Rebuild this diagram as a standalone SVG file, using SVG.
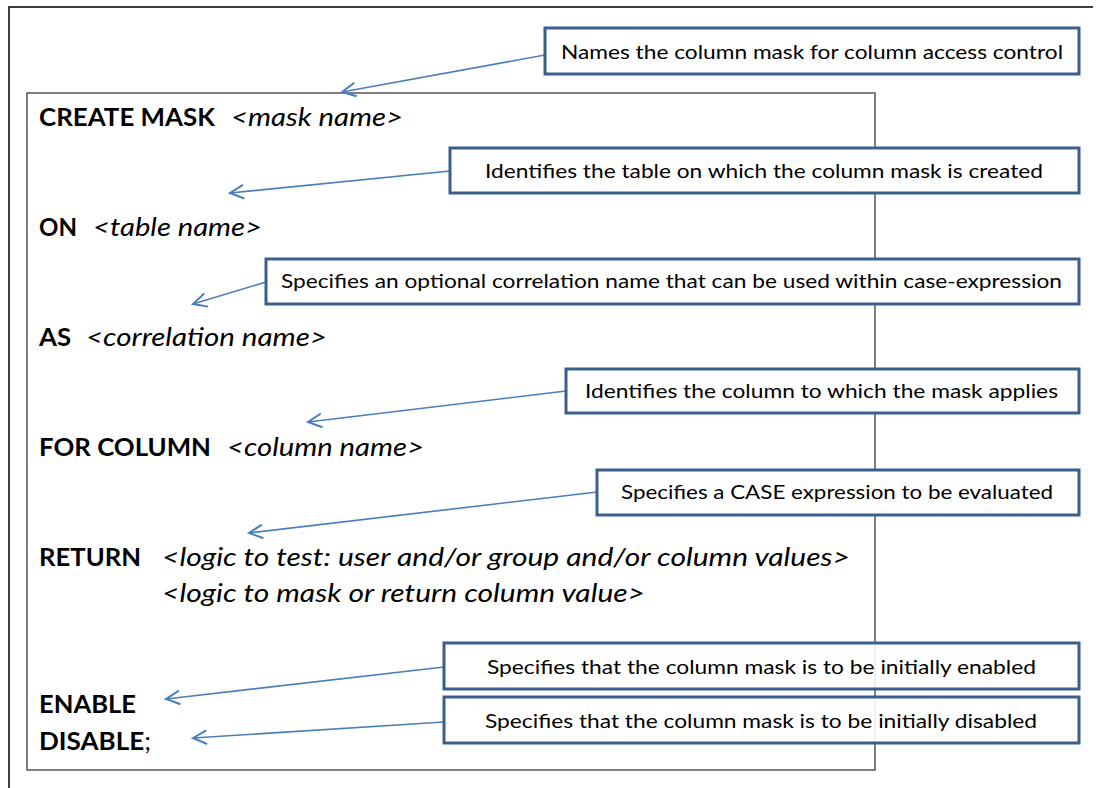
<svg xmlns="http://www.w3.org/2000/svg" width="1097" height="788" viewBox="0 0 1097 788">
<style>
.frame{fill:none;stroke:#000;stroke-width:1.5}
.inner{fill:#fff;stroke:#555;stroke-width:1.5}
.box{fill:#fff;stroke:#3B5E8C;stroke-width:3}
.conn{fill:none;stroke:#4A7EBB;stroke-width:1.6}
.kw{font-family:"Lato","Liberation Sans",sans-serif;font-weight:bold;font-size:25px;fill:#000}
.it{font-family:"Lato","Liberation Sans",sans-serif;font-style:italic;font-size:25px;fill:#000}
.ct{font-family:"Lato","Liberation Sans",sans-serif;font-size:20px;fill:#000}
</style>
<defs>
<marker id="arr" markerUnits="userSpaceOnUse" markerWidth="20" markerHeight="20" viewBox="-12 -8 14 16" refX="0" refY="0" orient="auto" overflow="visible">
<path d="M-11,-5.5 L0,0 L-11,5.5" fill="none" stroke="#4A7EBB" stroke-width="1.6"/>
</marker>
</defs>
<rect width="1097" height="788" fill="#fff"/>
<path class="frame" d="M9,788 L9,7 L1093,7"/>
<g id="syntax">
<rect class="inner" x="27" y="93" width="848" height="677"/>
<text class="kw" x="39" y="126" textLength="176" lengthAdjust="spacingAndGlyphs">CREATE MASK</text>
<text class="it" x="231" y="126" textLength="172" lengthAdjust="spacingAndGlyphs">&lt;mask name&gt;</text>
<text class="kw" x="39" y="236" textLength="38" lengthAdjust="spacingAndGlyphs">ON</text>
<text class="it" x="93" y="236" textLength="169" lengthAdjust="spacingAndGlyphs">&lt;table name&gt;</text>
<text class="kw" x="39" y="346" textLength="32" lengthAdjust="spacingAndGlyphs">AS</text>
<text class="it" x="86" y="346" textLength="241" lengthAdjust="spacingAndGlyphs">&lt;correlation name&gt;</text>
<text class="kw" x="39" y="456" textLength="172" lengthAdjust="spacingAndGlyphs">FOR COLUMN</text>
<text class="it" x="227" y="456" textLength="197" lengthAdjust="spacingAndGlyphs">&lt;column name&gt;</text>
<text class="kw" x="39" y="566" textLength="102" lengthAdjust="spacingAndGlyphs">RETURN</text>
<text class="it" x="162" y="566" textLength="688" lengthAdjust="spacingAndGlyphs">&lt;logic to test: user and/or group and/or column values&gt;</text>
<text class="it" x="162" y="602" textLength="483" lengthAdjust="spacingAndGlyphs">&lt;logic to mask or return column value&gt;</text>
<text class="kw" x="39" y="713" textLength="97" lengthAdjust="spacingAndGlyphs">ENABLE</text>
<text class="kw" x="39" y="750" textLength="112" lengthAdjust="spacingAndGlyphs">DISABLE<tspan font-weight="normal">;</tspan></text>
</g>
<g id="connectors">
<line class="conn" x1="545" y1="55" x2="342" y2="92" marker-end="url(#arr)"/>
<line class="conn" x1="450" y1="171" x2="230" y2="193" marker-end="url(#arr)"/>
<line class="conn" x1="266" y1="282" x2="193" y2="304" marker-end="url(#arr)"/>
<line class="conn" x1="566" y1="391" x2="308" y2="422" marker-end="url(#arr)"/>
<line class="conn" x1="597" y1="492" x2="249" y2="533" marker-end="url(#arr)"/>
<line class="conn" x1="444" y1="667" x2="166" y2="699" marker-end="url(#arr)"/>
<line class="conn" x1="444" y1="722" x2="193" y2="738" marker-end="url(#arr)"/>
</g>
<g id="callout1">
<rect class="box" x="545" y="28" width="534" height="46"/>
<text class="ct" x="561" y="58.5" textLength="502" lengthAdjust="spacingAndGlyphs">Names the column mask for column access control</text>
</g>
<g id="callout2">
<rect class="box" x="450" y="148" width="629" height="45"/>
<text class="ct" x="485" y="177.5" textLength="558" lengthAdjust="spacingAndGlyphs">Identifies the table on which the column mask is created</text>
</g>
<g id="callout3">
<rect class="box" x="266" y="259" width="813" height="45"/>
<text class="ct" x="281" y="287.5" textLength="781" lengthAdjust="spacingAndGlyphs">Specifies an optional correlation name that can be used within case-expression</text>
</g>
<g id="callout4">
<rect class="box" x="566" y="369" width="513" height="44"/>
<text class="ct" x="585" y="397.5" textLength="473" lengthAdjust="spacingAndGlyphs">Identifies the column to which the mask applies</text>
</g>
<g id="callout5">
<rect class="box" x="597" y="470" width="482" height="45"/>
<text class="ct" x="621" y="498.5" textLength="432" lengthAdjust="spacingAndGlyphs">Specifies a CASE expression to be evaluated</text>
</g>
<g id="callout6">
<rect class="box" x="444" y="643" width="635" height="46" fill-opacity="0.88"/>
<text class="ct" x="487" y="673.5" textLength="549" lengthAdjust="spacingAndGlyphs">Specifies that the column mask is to be initially enabled</text>
</g>
<g id="callout7">
<rect class="box" x="444" y="697" width="635" height="46" fill-opacity="0.88"/>
<text class="ct" x="485" y="727.5" textLength="552" lengthAdjust="spacingAndGlyphs">Specifies that the column mask is to be initially disabled</text>
</g>
</svg>
